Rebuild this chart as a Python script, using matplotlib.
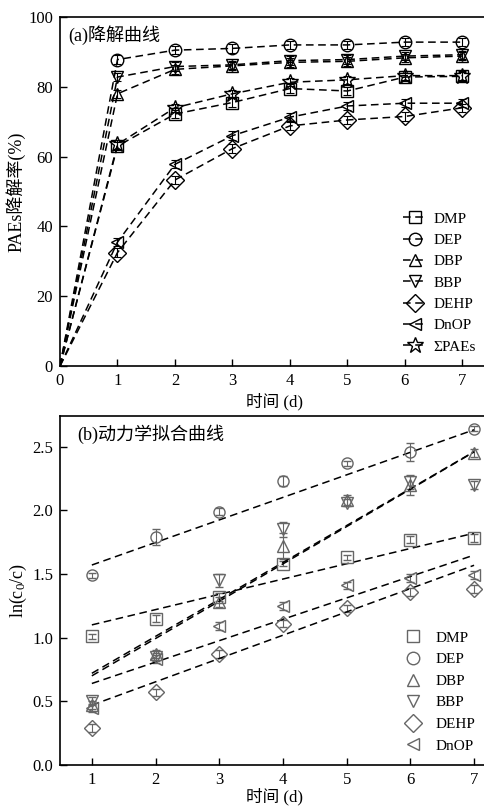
import numpy as np
import matplotlib
matplotlib.use("Agg")
import matplotlib.pyplot as plt
from matplotlib.lines import Line2D

plt.rcParams['font.family'] = ['Liberation Serif', 'Noto Sans CJK SC']
plt.rcParams['mathtext.fontset'] = 'custom'
plt.rcParams['mathtext.rm'] = 'Liberation Serif'
plt.rcParams['mathtext.it'] = 'Liberation Serif'

names = ["DMP", "DEP", "DBP", "BBP", "DEHP", "DnOP"]
markers = ["s", "o", "^", "v", "D", "<"]

# (a) degradation curves
days_a = [0, 1, 2, 3, 4, 5, 6, 7]
dmp_a = [0, 63, 72.2, 75.5, 79.5, 78.8, 82.8, 83]
dep_a = [0, 87.8, 90.5, 91, 92, 92, 92.8, 92.8]
dbp_a = [0, 78, 85, 86, 87, 87.3, 88.3, 88.8]
bbp_a = [0, 82.8, 85.8, 86.3, 87.5, 87.8, 88.8, 89.2]
dehp_a = [0, 32.5, 53.3, 62.3, 68.8, 70.5, 71.5, 74]
dnop_a = [0, 35.5, 57.8, 66, 71.3, 74.5, 75.3, 75.3]
sum_a = [0, 63.5, 74, 78, 81.3, 82, 83.2, 83.2]
err_a = [0, 1.2, 1.2, 1.2, 1.2, 1.2, 1.2, 1.2]

# (b) kinetic fitting
days_b = [1, 2, 3, 4, 5, 6, 7]
dmp_b = [1.01, 1.15, 1.32, 1.58, 1.63, 1.77, 1.78]
dep_b = [1.49, 1.79, 1.99, 2.23, 2.37, 2.46, 2.64]
dbp_b = [0.47, 0.87, 1.28, 1.72, 2.08, 2.20, 2.45]
bbp_b = [0.50, 0.85, 1.45, 1.85, 2.06, 2.22, 2.20]
dehp_b = [0.29, 0.57, 0.87, 1.11, 1.23, 1.36, 1.38]
dnop_b = [0.45, 0.83, 1.09, 1.25, 1.41, 1.47, 1.49]
dmp_e = [0.02, 0.03, 0.03, 0.02, 0.02, 0.03, 0.03]
dep_e = [0.02, 0.06, 0.03, 0.04, 0.02, 0.07, 0.02]
dbp_e = [0.03, 0.03, 0.04, 0.10, 0.04, 0.08, 0.03]
bbp_e = [0.03, 0.03, 0.05, 0.06, 0.03, 0.05, 0.03]
dehp_e = [0.03, 0.03, 0.03, 0.03, 0.03, 0.03, 0.03]
dnop_e = [0.03, 0.03, 0.03, 0.03, 0.03, 0.03, 0.03]
# linear fit lines ln(c0/c) = k*t + b
fit_k = [0.120, 0.177, 0.290, 0.293, 0.183, 0.168]
fit_b = [0.980, 1.393, 0.430, 0.407, 0.287, 0.472]

fig = plt.figure(figsize=(4.85, 8.07), dpi=100)
ax1 = fig.add_axes([60 / 485, (807 - 366) / 807, 430 / 485, 349 / 807])
ax2 = fig.add_axes([60 / 485, (807 - 765) / 807, 430 / 485, 349 / 807])

series_a = [dmp_a, dep_a, dbp_a, bbp_a, dehp_a, dnop_a, sum_a]
labels_a = names + ["ΣPAEs"]
markers_a = markers + ["*"]
for y, lab, m in zip(series_a, labels_a, markers_a):
    ms = 12 if m == "*" else 9
    ax1.errorbar(days_a[1:], y[1:], yerr=err_a[1:], fmt="none", ecolor="k",
                 elinewidth=0.8, capsize=3, capthick=0.8)
    ax1.plot(days_a, y, color="k", ls=(0, (5, 3)), lw=1.1, marker=m, ms=ms,
             mfc="none", mec="k", mew=1.0, markevery=list(range(1, 8)),
             label=lab)
ax1.set_xlim(0, 7.48)
ax1.set_ylim(0, 100)
ax1.set_xticks(range(0, 8))
ax1.set_yticks(range(0, 101, 20))
ax1.set_xlabel("时间 (d)", fontsize=12, labelpad=3)
ax1.set_ylabel("PAEs降解率(%)", fontsize=13, labelpad=2)
ax1.text(0.02, 0.975, "(a)降解曲线", transform=ax1.transAxes, fontsize=13,
         va="top", ha="left")
ax1.legend(loc="lower right", bbox_to_anchor=(0.995, 0.0), frameon=False,
           fontsize=11, handlelength=1.6, handletextpad=0.4, labelspacing=0.5,
           borderaxespad=0.4)

gray = "#666666"
series_b = [dmp_b, dep_b, dbp_b, bbp_b, dehp_b, dnop_b]
errs_b = [dmp_e, dep_e, dbp_e, bbp_e, dehp_e, dnop_e]
t = np.array([1, 7])
handles = []
for y, e, lab, m, k, b in zip(series_b, errs_b, names, markers, fit_k, fit_b):
    ax2.errorbar(days_b, y, yerr=e, fmt=m, ms=8, mfc="none", mec=gray,
                 mew=1.0, ecolor=gray, elinewidth=0.8, capsize=3,
                 capthick=0.8)
    ax2.plot(t, k * t + b, color="k", ls=(0, (5, 3)), lw=1.1)
    handles.append(Line2D([], [], ls="none", marker=m, ms=9, mfc="none",
                          mec=gray, mew=1.0, label=lab))
ax2.set_xlim(0.5, 7.25)
ax2.set_ylim(0, 2.74)
ax2.set_xticks(range(1, 8))
ax2.set_yticks([0.0, 0.5, 1.0, 1.5, 2.0, 2.5])
ax2.set_yticklabels(["0.0", "0.5", "1.0", "1.5", "2.0", "2.5"])
ax2.set_xlabel("时间 (d)", fontsize=12, labelpad=0)
ax2.set_ylabel("ln(c$_0$/c)", fontsize=13, labelpad=2)
ax2.text(0.04, 0.975, "(b)动力学拟合曲线", transform=ax2.transAxes, fontsize=13,
         va="top", ha="left")
ax2.legend(handles=handles, loc="lower right", bbox_to_anchor=(0.995, 0.0),
           frameon=False, fontsize=11, handlelength=1.2, handletextpad=0.9,
           labelspacing=0.52, borderaxespad=0.4)

for ax in (ax1, ax2):
    ax.tick_params(direction="in", labelsize=12, length=5, width=1.0,
                   top=False, right=False, pad=5)
    for s in ax.spines.values():
        s.set_linewidth(1.2)

fig.savefig("out.png", dpi=100)
